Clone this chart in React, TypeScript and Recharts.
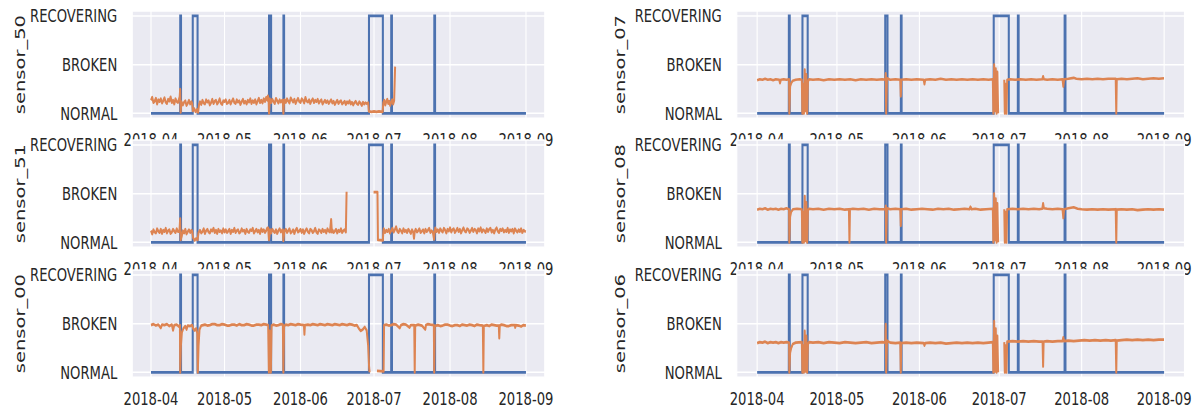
import React from 'react';
import { LineChart, Line, XAxis, YAxis, CartesianGrid, Label } from 'recharts';

// Horizontal squeeze applied to the whole figure (glyphs and strokes are narrow).
const SQUEEZE = 0.74;

// Time axis: days since 2018-04-01
const monthTicks = [0, 30, 61, 91, 122, 153];
const monthLabels = ['2018-04', '2018-05', '2018-06', '2018-07', '2018-08', '2018-09'];
const xDomain: [number, number] = [-7.65, 160.65];

// Machine status axis
const statusTicks = [0, 1, 2];
const statusLabels = ['NORMAL', 'BROKEN', 'RECOVERING'];
const yDomain: [number, number] = [-0.1, 2.1];

// Machine status over time (0 NORMAL, 1 BROKEN, 2 RECOVERING)
const statusDays = [
  0,
  11.91, 11.92, 11.93, 12.25, 12.26,
  17.02, 17.03, 17.04, 19.0, 19.01,
  48.14, 48.15, 48.16, 49.0, 49.01,
  54.02, 54.03, 54.04, 54.3, 54.31,
  88.92, 88.93, 88.94, 94.6, 94.61,
  98.0, 98.01, 98.02, 98.3, 98.31,
  115.58, 115.59, 115.6, 115.9, 115.91,
  152.99,
];
const statusLevels = [
  0,
  0, 1, 2, 2, 0,
  0, 1, 2, 2, 0,
  0, 1, 2, 2, 0,
  0, 1, 2, 2, 0,
  0, 1, 2, 2, 0,
  0, 1, 2, 2, 0,
  0, 1, 2, 2, 0,
  0,
];

// Scaled sensor readings: [day, value]
const sensor50: [number, number | null][] = [
  [0, 0.27], [0.5, 0.33], [1, 0.22], [1.5, 0.25], [2, 0.31], [2.5, 0.19], [3, 0.28], [3.5, 0.24], [4, 0.3],
  [4.5, 0.21], [5, 0.26], [5.5, 0.32], [6, 0.23], [6.5, 0.2], [7, 0.29], [7.5, 0.25], [8, 0.34], [8.5, 0.22],
  [9, 0.27], [9.5, 0.19], [10, 0.3], [10.5, 0.24], [11, 0.22],
  [11.7, 0.34], [11.9, 0.5], [12.1, 0.02], [12.4, 0.24],
  [13, 0.17], [13.5, 0.23], [14, 0.26], [14.5, 0.16], [15, 0.21], [15.5, 0.27], [16, 0.19], [16.5, 0.24],
  [16.8, 0.2], [17.1, 0.05], [17.6, 0.1], [18.2, 0.03], [18.8, 0.08], [19.2, 0.02], [19.6, 0.18],
  [20, 0.24], [20.5, 0.18], [21, 0.27], [21.5, 0.21], [22, 0.19], [22.5, 0.28], [23, 0.23], [23.5, 0.26],
  [24, 0.17], [24.5, 0.22], [25, 0.29], [25.5, 0.2], [26, 0.25], [26.5, 0.27], [27, 0.19], [27.5, 0.23],
  [28, 0.3], [28.5, 0.21], [29, 0.18], [29.5, 0.26], [30, 0.24], [30.5, 0.28], [31, 0.2], [31.5, 0.22],
  [32, 0.27], [32.5, 0.19], [33, 0.25], [33.5, 0.3], [34, 0.22], [34.5, 0.2], [35, 0.28], [35.5, 0.23],
  [36, 0.26], [36.5, 0.18], [37, 0.24], [37.5, 0.29], [38, 0.21], [38.5, 0.25], [39, 0.19], [39.5, 0.27],
  [40, 0.23], [40.5, 0.3], [41, 0.2], [41.5, 0.26], [42, 0.22], [42.5, 0.28], [43, 0.19], [43.5, 0.25],
  [44, 0.31], [44.5, 0.22], [45, 0.27], [45.5, 0.21], [46, 0.3], [46.5, 0.24], [47, 0.33], [47.5, 0.27],
  [47.7, 0.36], [48.0, 0.28], [48.15, 0.0], [48.5, 0.3],
  [49, 0.22], [49.5, 0.29], [50, 0.24], [50.5, 0.2], [51, 0.31], [51.5, 0.26], [52, 0.21], [52.5, 0.28],
  [53, 0.23], [53.5, 0.27], [53.8, 0.27], [54.02, 0.0], [54.3, 0.25],
  [54.5, 0.28], [55, 0.22], [55.5, 0.3], [56, 0.25], [56.5, 0.21], [57, 0.32], [57.5, 0.27], [58, 0.23],
  [58.5, 0.29], [59, 0.2], [59.5, 0.26], [60, 0.31], [60.5, 0.24], [61, 0.22], [61.5, 0.3], [62, 0.27],
  [62.5, 0.21], [63, 0.33], [63.5, 0.25], [64, 0.23], [64.5, 0.28], [65, 0.2], [65.5, 0.26], [66, 0.3],
  [66.5, 0.22], [67, 0.27], [67.5, 0.24], [68, 0.29], [68.5, 0.21], [69, 0.25], [69.5, 0.28], [70, 0.19],
  [70.5, 0.23], [71, 0.27], [71.5, 0.22], [72, 0.26], [72.5, 0.2], [73, 0.24], [73.5, 0.28], [74, 0.21],
  [74.5, 0.25], [75, 0.18], [75.5, 0.23], [76, 0.27], [76.5, 0.2], [77, 0.24], [77.5, 0.26], [78, 0.19],
  [78.5, 0.22], [79, 0.25], [79.5, 0.18], [80, 0.24], [80.5, 0.21], [81, 0.26], [81.5, 0.19], [82, 0.23],
  [82.5, 0.17], [83, 0.22], [83.5, 0.25], [84, 0.2], [84.5, 0.18], [85, 0.24], [85.5, 0.21], [86, 0.16],
  [86.5, 0.23], [87, 0.19], [87.5, 0.22], [88, 0.2],
  [88.6, 0.22], [88.9, 0.04], [90, 0.03], [91, 0.04], [92, 0.03], [93, 0.04], [94.5, 0.03],
  [94.8, 0.22], [95.2, 0.27], [95.6, 0.17], [96, 0.24], [96.4, 0.29], [96.8, 0.2], [97.2, 0.25], [97.6, 0.16],
  [98, 0.23], [98.4, 0.28], [98.8, 0.19], [99.2, 0.26], [99.6, 0.96],
];

const sensor51: [number, number | null][] = [
  [0, 0.24], [0.5, 0.17], [1, 0.26], [1.5, 0.21], [2, 0.19], [2.5, 0.28], [3, 0.23], [3.5, 0.2], [4, 0.27],
  [4.5, 0.18], [5, 0.25], [5.5, 0.22], [6, 0.29], [6.5, 0.19], [7, 0.24], [7.5, 0.26], [8, 0.18], [8.5, 0.21],
  [9, 0.27], [9.5, 0.23], [10, 0.2], [10.5, 0.28], [11, 0.22],
  [11.6, 0.22], [11.9, 0.49], [12.1, 0.05], [12.5, 0.12],
  [13, 0.24], [13.5, 0.19], [14, 0.27], [14.5, 0.17], [15, 0.22], [15.5, 0.26], [16, 0.2], [16.5, 0.25],
  [16.8, 0.23], [17.2, 0.09], [17.8, 0.04], [18.4, 0.08], [19.0, 0.05], [19.4, 0.2],
  [20, 0.25], [20.5, 0.19], [21, 0.22], [21.5, 0.28], [22, 0.18], [22.5, 0.24], [23, 0.27], [23.5, 0.21],
  [24, 0.19], [24.5, 0.26], [25, 0.23], [25.5, 0.29], [26, 0.2], [26.5, 0.25], [27, 0.18], [27.5, 0.27],
  [28, 0.22], [28.5, 0.24], [29, 0.19], [29.5, 0.28], [30, 0.21], [30.5, 0.26], [31, 0.2], [31.5, 0.23],
  [32, 0.27], [32.5, 0.18], [33, 0.25], [33.5, 0.22], [34, 0.29], [34.5, 0.2], [35, 0.24], [35.5, 0.26],
  [36, 0.19], [36.5, 0.21], [37, 0.28], [37.5, 0.23], [38, 0.25], [38.5, 0.18], [39, 0.27], [39.5, 0.22],
  [40, 0.2], [40.5, 0.26], [41, 0.24], [41.5, 0.29], [42, 0.19], [42.5, 0.23], [43, 0.27], [43.5, 0.21],
  [44, 0.25], [44.5, 0.18], [45, 0.28], [45.5, 0.22], [46, 0.26], [46.5, 0.2], [47, 0.24], [47.5, 0.3],
  [47.8, 0.3], [48.15, 0.05], [48.6, 0.26],
  [49, 0.19], [49.5, 0.27], [50, 0.23], [50.5, 0.2], [51, 0.26], [51.5, 0.18], [52, 0.24], [52.5, 0.28],
  [53, 0.21], [53.5, 0.25], [53.8, 0.26], [54.02, 0.03], [54.4, 0.22],
  [55, 0.27], [55.5, 0.2], [56, 0.24], [56.5, 0.28], [57, 0.19], [57.5, 0.22], [58, 0.26], [58.5, 0.18],
  [59, 0.25], [59.5, 0.29], [60, 0.21], [60.5, 0.23], [61, 0.27], [61.5, 0.2], [62, 0.26], [62.5, 0.18],
  [63, 0.24], [63.5, 0.28], [64, 0.22], [64.5, 0.19], [65, 0.27], [65.5, 0.25], [66, 0.2], [66.5, 0.23],
  [67, 0.29], [67.5, 0.21], [68, 0.18], [68.5, 0.26], [69, 0.24], [69.5, 0.2], [70, 0.27], [70.5, 0.22],
  [71, 0.25], [71.5, 0.19], [72, 0.28], [72.5, 0.23], [73, 0.21],
  [73.5, 0.47], [73.8, 0.21],
  [74, 0.26], [74.5, 0.2], [75, 0.23], [75.5, 0.27], [76, 0.19], [76.5, 0.25], [77, 0.22], [77.5, 0.28],
  [78, 0.2], [78.5, 0.24], [79, 0.26], [79.5, 0.21], [79.8, 1.04], [79.9, null],
  [90.8, 1.03], [92.4, 1.03], [92.6, 0.05], [94.6, 0.04], [94.8, 0.23],
  [95, 0.28], [95.5, 0.2], [96, 0.25], [96.5, 0.22], [97, 0.27], [97.5, 0.19], [98, 0.24], [98.5, 0.29],
  [99, 0.21], [99.5, 0.26], [100, 0.32], [100.5, 0.23], [101, 0.2], [101.5, 0.27], [102, 0.24], [102.5, 0.19],
  [103, 0.28], [103.5, 0.22], [104, 0.25], [104.5, 0.2], [105, 0.27], [105.5, 0.23], [106, 0.18], [106.5, 0.26],
  [107, 0.21], [107.3, 0.08], [107.6, 0.22],
  [108, 0.27], [108.5, 0.21], [109, 0.24], [109.5, 0.28], [110, 0.2], [110.5, 0.23], [111, 0.26], [111.5, 0.19],
  [112, 0.27], [112.5, 0.22], [113, 0.25], [113.5, 0.29], [114, 0.2], [114.5, 0.24], [115, 0.21],
  [115.5, 0.06], [115.8, 0.24],
  [116, 0.3], [116.5, 0.22], [117, 0.26], [117.5, 0.2], [118, 0.28], [118.5, 0.24], [119, 0.21], [119.5, 0.29],
  [120, 0.25], [120.5, 0.19], [121, 0.27], [121.5, 0.23], [122, 0.3], [122.5, 0.21], [123, 0.26], [123.5, 0.28],
  [124, 0.2], [124.5, 0.24], [125, 0.29], [125.5, 0.22], [126, 0.27], [126.5, 0.19], [127, 0.25], [127.5, 0.3],
  [128, 0.23], [128.5, 0.21], [129, 0.28], [129.5, 0.26], [130, 0.2], [130.5, 0.24], [131, 0.29], [131.5, 0.22],
  [132, 0.27], [132.5, 0.25], [133, 0.19], [133.5, 0.28], [134, 0.23], [134.5, 0.3], [135, 0.21], [135.5, 0.26],
  [136, 0.24], [136.5, 0.2], [137, 0.28], [137.5, 0.22], [138, 0.27], [138.5, 0.29], [139, 0.21], [139.5, 0.25],
  [140, 0.19], [140.5, 0.26], [141, 0.3], [141.5, 0.23], [142, 0.2], [142.5, 0.27], [143, 0.24], [143.5, 0.28],
  [144, 0.21], [144.5, 0.25], [145, 0.22], [145.5, 0.29], [146, 0.2], [146.5, 0.26], [147, 0.23], [147.5, 0.27],
  [148, 0.19], [148.5, 0.28], [149, 0.24], [149.5, 0.21], [150, 0.26], [150.5, 0.22], [151, 0.28], [151.5, 0.2],
  [152, 0.25], [152.5, 0.23], [152.95, 0.22],
];

const sensor00: [number, number | null][] = [
  [0, 0.97], [1, 0.99], [2, 0.96], [3, 0.98], [4, 0.91], [4.5, 0.98], [5.5, 0.97], [6.5, 0.99], [7.5, 0.95],
  [8.5, 0.98], [9, 0.86], [9.5, 0.97], [10.5, 0.98], [11.4, 0.94], [11.8, 0.97], [11.92, 0.0], [12.2, 0.55],
  [12.6, 0.82], [13.2, 0.9], [14, 0.95], [14.5, 0.88], [15, 0.96], [16, 0.95], [16.8, 0.97], [17.2, 0.9],
  [17.8, 0.86], [18.4, 0.9], [18.9, 0.8], [19.1, 0.0], [19.4, 0.55], [19.8, 0.88], [20.5, 0.96], [22, 0.98],
  [23, 0.96], [24, 0.97], [25, 0.99], [26, 0.99], [27, 0.97], [28, 0.97], [29, 0.99], [30, 0.98], [31, 0.96],
  [32, 0.96], [33, 0.98], [34, 0.98], [35, 0.96], [36, 0.99], [37, 0.97], [38, 0.97], [39, 0.99], [40, 0.98],
  [41, 0.96], [42, 0.96], [43, 0.98], [44, 0.98], [45, 0.97], [46, 0.99], [47, 0.98], [47.8, 0.97],
  [48.1, 0.0], [48.4, 0.85], [48.9, 0.0], [49.2, 0.96], [50, 0.98], [51, 0.96], [52, 0.97], [53, 0.99],
  [53.8, 0.98], [54.02, 0.0], [54.3, 0.95], [55, 0.98], [56, 0.97], [57, 0.99], [58, 0.98], [59, 0.97],
  [60, 0.99], [61, 0.98], [62.4, 0.97], [62.6, 0.78], [62.8, 0.97], [64, 0.98], [65, 0.97], [66, 0.99],
  [67, 0.98], [68, 0.97], [69, 0.99], [70, 0.98], [71, 0.97], [72, 0.99], [73, 0.98], [74, 0.97], [75, 0.99],
  [76, 0.98], [77, 0.97], [78, 0.99], [79, 0.98], [80, 0.97], [81, 0.99], [82, 0.98], [83, 0.96], [84, 0.97],
  [84.8, 0.9], [85.6, 0.85], [86.4, 0.88], [87.2, 0.93], [88, 0.86], [88.6, 0.55], [89.0, 0.1], [89.2, 0.0],
  [89.3, null], [92.2, 0.03], [94.9, 0.02], [95.1, 0.97], [96, 0.98], [97, 0.96], [98, 0.97], [99, 0.99],
  [100, 0.98], [101.5, 0.91], [102, 0.97], [103, 0.99], [104, 0.98], [105.5, 0.92], [106, 0.97], [107.4, 0.97],
  [107.6, 0.0], [107.8, 0.96], [109, 0.98], [110.5, 0.96], [111.9, 0.88], [112.2, 0.97], [113, 0.99],
  [114, 0.98], [115.4, 0.97], [115.55, 0.0], [115.8, 0.95], [117, 0.97], [118, 0.95], [119, 0.96], [120, 0.98],
  [121, 0.98], [122, 0.96], [123, 0.95], [124, 0.97], [125, 0.97], [126, 0.95], [127, 0.98], [128, 0.97],
  [129, 0.96], [130, 0.98], [131, 0.97], [132, 0.95], [133, 0.98], [134, 0.97], [135.4, 0.96], [135.6, 0.0],
  [135.8, 0.95], [137, 0.97], [138, 0.95], [139, 0.98], [140, 0.97], [141, 0.96], [141.9, 0.96], [142.1, 0.7],
  [142.3, 0.96], [143, 0.98], [144, 0.97], [145, 0.95], [146, 0.95], [147, 0.97], [148.4, 0.97], [148.6, 0.92],
  [148.8, 0.97], [150, 0.96], [151, 0.94], [152, 0.97], [152.95, 0.96],
];

const sensor07: [number, number | null][] = [
  [0, 0.68], [1, 0.7], [2, 0.69], [3, 0.71], [4, 0.69], [5, 0.7], [6, 0.68], [7, 0.7], [8.3, 0.69], [8.6, 0.62],
  [8.9, 0.69], [10, 0.7], [11, 0.69], [12.0, 0.7], [12.1, 0.0], [12.4, 0.55], [12.8, 0.62], [13.4, 0.67],
  [14.5, 0.69], [16, 0.7], [16.8, 0.69], [17.0, 0.0], [17.3, 0.6], [17.6, 0.0], [17.9, 0.9], [18.2, 0.05],
  [18.5, 0.8], [18.8, 0.0], [19.1, 0.65], [19.5, 0.7], [21, 0.69], [23, 0.7], [25, 0.68], [27, 0.7], [29, 0.69],
  [31, 0.7], [33, 0.69], [35, 0.7], [37, 0.68], [39, 0.7], [41, 0.69], [43, 0.7], [45, 0.69], [47, 0.7],
  [48.2, 0.69], [48.35, 0.82], [48.5, 0.0], [48.8, 0.72], [50, 0.69], [52, 0.7], [53.8, 0.69], [54.0, 0.35],
  [54.2, 0.69], [56, 0.7], [58, 0.69], [60, 0.7], [62.6, 0.69], [62.9, 0.6], [63.2, 0.69], [65, 0.7],
  [67, 0.69], [69, 0.71], [71, 0.69], [73, 0.7], [75, 0.69], [77, 0.7], [79, 0.69], [81, 0.7], [83, 0.69],
  [85, 0.7], [87, 0.69], [88.6, 0.7], [88.8, 0.0], [89.1, 1.0], [89.4, 0.05], [89.7, 0.92], [90.0, 0.0],
  [90.3, 0.85], [90.6, 0.0], [90.7, null], [92.9, 0.69], [93.1, 0.0], [93.4, 0.6], [93.7, 0.0], [94.0, 0.69],
  [95, 0.7], [97, 0.69], [99, 0.7], [101, 0.69], [103, 0.7], [105, 0.69], [107.2, 0.7], [107.5, 0.76],
  [107.8, 0.7], [109, 0.69], [111, 0.7], [113, 0.69], [114.8, 0.7], [115.1, 0.55], [115.4, 0.7], [117, 0.71],
  [119, 0.73], [120, 0.71], [122, 0.7], [124, 0.71], [126, 0.7], [128, 0.71], [130, 0.7], [132, 0.71],
  [134.8, 0.71], [135.0, 0.0], [135.2, 0.7], [137, 0.71], [139, 0.7], [141, 0.71], [143, 0.72], [145, 0.7],
  [147, 0.71], [149, 0.72], [151, 0.71], [152.95, 0.72],
];

const sensor08: [number, number | null][] = [
  [0, 0.67], [1, 0.69], [2, 0.68], [3, 0.7], [4, 0.67], [5, 0.69], [6, 0.68], [7, 0.69], [8, 0.67], [9, 0.69],
  [10, 0.68], [11, 0.7], [12.0, 0.68], [12.1, 0.0], [12.4, 0.52], [12.8, 0.63], [13.5, 0.68], [15, 0.69],
  [16.8, 0.68], [17.0, 0.0], [17.3, 0.62], [17.6, 0.0], [17.9, 0.95], [18.2, 0.03], [18.5, 0.82], [18.8, 0.0],
  [19.1, 0.66], [19.5, 0.69], [21, 0.68], [23, 0.69], [25, 0.67], [27, 0.69], [29, 0.68], [31, 0.69],
  [33, 0.67], [34.5, 0.68], [34.7, 0.0], [34.9, 0.68], [36, 0.69], [38, 0.68], [40, 0.69], [42, 0.67],
  [44, 0.69], [46, 0.68], [48.2, 0.68], [48.35, 0.75], [48.5, 0.0], [48.8, 0.7], [50, 0.68], [52, 0.69],
  [53.8, 0.68], [54.0, 0.34], [54.2, 0.68], [56, 0.69], [58, 0.67], [60, 0.68], [62, 0.69], [64, 0.68],
  [66, 0.67], [68, 0.69], [70, 0.68], [72, 0.69], [74, 0.67], [76, 0.68], [78, 0.69], [79.8, 0.68],
  [80.2, 0.73], [80.6, 0.68], [82, 0.69], [84, 0.67], [86, 0.68], [88.6, 0.69], [88.8, 0.0], [89.1, 1.0],
  [89.4, 0.05], [89.7, 0.9], [90.0, 0.0], [90.3, 0.8], [90.6, 0.0], [90.7, null], [92.9, 0.68], [93.1, 0.0],
  [93.4, 0.62], [93.7, 0.0], [94.0, 0.68], [96, 0.69], [98, 0.68], [100, 0.69], [102, 0.68], [104, 0.69],
  [106, 0.68], [107.2, 0.69], [107.5, 0.8], [107.8, 0.7], [109, 0.69], [111, 0.68], [113, 0.69], [114.8, 0.68],
  [115.1, 0.5], [115.4, 0.68], [117, 0.7], [119, 0.72], [120.5, 0.69], [122, 0.68], [124, 0.67], [126, 0.68],
  [128, 0.67], [130, 0.68], [132, 0.67], [134.8, 0.68], [135.0, 0.0], [135.2, 0.67], [137, 0.68], [139, 0.67],
  [141, 0.68], [143, 0.66], [145, 0.67], [147, 0.68], [149, 0.67], [151, 0.68], [152.95, 0.67],
];

const sensor06: [number, number | null][] = [
  [0, 0.6], [1, 0.62], [2, 0.61], [3, 0.63], [4, 0.6], [5, 0.62], [6, 0.61], [7, 0.62], [8, 0.6], [9, 0.62],
  [10, 0.61], [11, 0.62], [12.0, 0.61], [12.1, 0.0], [12.4, 0.4], [12.8, 0.5], [13.4, 0.58], [14.5, 0.61],
  [16.8, 0.62], [17.0, 0.0], [17.3, 0.55], [17.6, 0.0], [17.9, 0.85], [18.2, 0.02], [18.5, 0.75], [18.8, 0.0],
  [19.1, 0.58], [19.5, 0.62], [21, 0.61], [23, 0.62], [25, 0.6], [27, 0.62], [29, 0.61], [31, 0.6], [33, 0.62],
  [35, 0.61], [37, 0.6], [39, 0.61], [41, 0.62], [43, 0.6], [45, 0.61], [47, 0.62], [48.2, 0.61], [48.35, 0.99],
  [48.5, 0.0], [48.8, 0.65], [50, 0.61], [52, 0.6], [53.8, 0.61], [54.0, 0.0], [54.2, 0.6], [56, 0.61],
  [58, 0.6], [60, 0.61], [62.6, 0.6], [62.9, 0.55], [63.2, 0.6], [65, 0.61], [67, 0.6], [69, 0.61], [71, 0.59],
  [73, 0.6], [75, 0.61], [77, 0.6], [79, 0.61], [81, 0.6], [83, 0.61], [85, 0.6], [87, 0.61], [88.6, 0.62],
  [88.8, 0.0], [89.1, 1.05], [89.4, 0.02], [89.7, 0.9], [90.0, 0.0], [90.3, 0.75], [90.6, 0.0], [90.7, null],
  [92.9, 0.62], [93.1, 0.0], [93.4, 0.55], [93.7, 0.0], [94.0, 0.63], [96, 0.64], [98, 0.63], [100, 0.64],
  [102, 0.63], [104, 0.64], [106, 0.63], [107.3, 0.63], [107.5, 0.12], [107.7, 0.63], [109, 0.64], [111, 0.63],
  [113, 0.64], [114.8, 0.64], [115.1, 0.72], [115.4, 0.64], [117, 0.65], [119, 0.64], [121, 0.65], [123, 0.66],
  [125, 0.65], [127, 0.66], [129, 0.65], [131, 0.66], [133, 0.65], [134.8, 0.66], [135.0, 0.0], [135.2, 0.65],
  [137, 0.66], [139, 0.67], [141, 0.66], [143, 0.67], [145, 0.66], [147, 0.67], [149, 0.66], [151, 0.67],
  [152.95, 0.67],
];

const STATUS_COLOR = '#4C72B0';
const SENSOR_COLOR = '#DD8452';
const TEXT_COLOR = '#262626';
const FONT = '"DejaVu Sans", sans-serif';

const statusData = statusDays.map((t, i) => ({ t, v: statusLevels[i] }));
const toSeries = (rows: [number, number | null][]) => rows.map(([t, v]) => ({ t, v }));

// Page-pixel geometry of the two subplot columns and three rows
const columns = [
  { start: 0, dataLeft: 151, dataRight: 526, labelX: 25 },
  { start: 600, dataLeft: 757, dataRight: 1164, labelX: 625 },
];
const rowTop = (r: number) => 15.5 + 129.5 * r; // RECOVERING level
const rowBottom = (r: number) => 113 + 129.5 * r; // NORMAL level

const panels = [
  { name: 'sensor_50', rows: sensor50, col: 0, row: 0 },
  { name: 'sensor_07', rows: sensor07, col: 1, row: 0 },
  { name: 'sensor_51', rows: sensor51, col: 0, row: 1 },
  { name: 'sensor_08', rows: sensor08, col: 1, row: 1 },
  { name: 'sensor_00', rows: sensor00, col: 0, row: 2 },
  { name: 'sensor_06', rows: sensor06, col: 1, row: 2 },
];

type PanelProps = { name: string; rows: [number, number | null][]; col: number; row: number };

function Panel({ name, rows, col, row }: PanelProps) {
  const c = columns[col];
  const span = c.dataRight - c.dataLeft;
  const svgLeft = c.start / SQUEEZE;
  const plotLeft = (c.dataLeft - span * 0.05) / SQUEEZE;
  const plotW = (span * 1.1) / SQUEEZE;
  const padL = plotLeft - svgLeft;
  const padR = 40;
  const vspan = rowBottom(row) - rowTop(row);
  const plotTop = rowTop(row) - vspan * 0.05;
  const plotH = vspan * 1.1;
  const padT = 12;
  const padB = 40;
  const W = padL + plotW + padR;
  const H = padT + plotH + padB;
  const xLabelY = padT + plotH + 27.8;
  const yTickRight = padL - 15 / SQUEEZE;
  const titleX = c.labelX / SQUEEZE - svgLeft;

  const renderXTick = (p: any) => {
    const idx = monthTicks.indexOf(p.payload.value);
    return (
      <text x={p.x} y={xLabelY} textAnchor="middle" fontSize={17.8} fontFamily={FONT} fill={TEXT_COLOR}>
        {monthLabels[idx]}
      </text>
    );
  };
  const renderYTick = (p: any) => {
    const idx = statusTicks.indexOf(p.payload.value);
    return (
      <text x={yTickRight} y={p.y + 6.4} textAnchor="end" fontSize={17.8} fontFamily={FONT} fill={TEXT_COLOR}>
        {statusLabels[idx]}
      </text>
    );
  };
  const renderTitle = () => (
    <text
      transform={`translate(${titleX},${padT + plotH / 2}) rotate(-90)`}
      textAnchor="middle"
      fontSize={19.5}
      fontFamily={FONT}
      fill={TEXT_COLOR}
    >
      {name}
    </text>
  );

  return (
    <div style={{ position: 'absolute', left: svgLeft, top: plotTop - padT }}>
      <LineChart width={W} height={H} margin={{ top: padT, right: padR, bottom: 0, left: 0 }}>
        <CartesianGrid fill="#EAEAF2" fillOpacity={1} stroke="#FFFFFF" strokeWidth={1.5} />
        <XAxis
          type="number"
          dataKey="t"
          domain={xDomain}
          ticks={monthTicks}
          interval={0}
          allowDataOverflow
          axisLine={false}
          tickLine={false}
          height={padB}
          tick={renderXTick}
        />
        <YAxis
          type="number"
          domain={yDomain}
          ticks={statusTicks}
          interval={0}
          allowDataOverflow
          axisLine={false}
          tickLine={false}
          width={padL}
          tick={renderYTick}
        >
          <Label content={renderTitle} />
        </YAxis>
        <Line
          data={statusData}
          dataKey="v"
          type="linear"
          stroke={STATUS_COLOR}
          strokeWidth={2.8}
          dot={false}
          activeDot={false}
          isAnimationActive={false}
        />
        <Line
          data={toSeries(rows)}
          dataKey="v"
          type="linear"
          stroke={SENSOR_COLOR}
          strokeWidth={2.7}
          strokeLinejoin="round"
          dot={false}
          activeDot={false}
          connectNulls={false}
          isAnimationActive={false}
        />
      </LineChart>
    </div>
  );
}

export default function App() {
  return (
    <div style={{ position: 'absolute', left: 0, top: 0, width: 1200, height: 409, overflow: 'hidden', background: '#fff' }}>
      <div
        style={{
          position: 'absolute',
          left: 0,
          top: 0,
          width: 1200 / SQUEEZE,
          height: 409,
          transform: `scaleX(${SQUEEZE})`,
          transformOrigin: '0 0',
        }}
      >
        {panels.map((p) => (
          <Panel key={p.name} {...p} />
        ))}
      </div>
    </div>
  );
}
